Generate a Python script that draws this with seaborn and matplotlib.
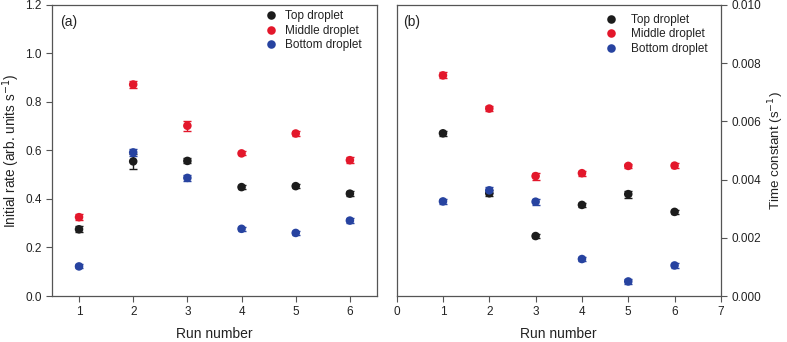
import matplotlib
matplotlib.use("Agg")
import matplotlib.pyplot as plt
import seaborn as sns
import pandas as pd
import numpy as np

runs = [1, 2, 3, 4, 5, 6]
series = ["Top droplet", "Middle droplet", "Bottom droplet"]

# Panel (a): initial rate
rate_top = [0.275, 0.555, 0.557, 0.449, 0.453, 0.422]
rate_mid = [0.325, 0.872, 0.702, 0.588, 0.670, 0.560]
rate_bot = [0.122, 0.592, 0.487, 0.277, 0.260, 0.311]
rate_top_err = [0.012, 0.030, 0.010, 0.008, 0.008, 0.010]
rate_mid_err = [0.012, 0.015, 0.020, 0.008, 0.010, 0.012]
rate_bot_err = [0.008, 0.015, 0.012, 0.008, 0.010, 0.010]

# Panel (b): time constant
tc_top = [0.00559, 0.00353, 0.00206, 0.00313, 0.00350, 0.00289]
tc_mid = [0.00758, 0.00644, 0.00412, 0.00422, 0.00447, 0.00448]
tc_bot = [0.00325, 0.00363, 0.00324, 0.00127, 0.00050, 0.00105]
tc_top_err = [0.00008, 0.00010, 0.00008, 0.00008, 0.00012, 0.00008]
tc_mid_err = [0.00010, 0.00010, 0.00012, 0.00008, 0.00008, 0.00008]
tc_bot_err = [0.00008, 0.00010, 0.00010, 0.00008, 0.00008, 0.00008]

colors = {"Top droplet": "#1c1c1c", "Middle droplet": "#e3172b", "Bottom droplet": "#2743a0"}

sns.set_style("ticks")
plt.rcParams['font.family'] = ['Liberation Sans', 'DejaVu Sans']

def make_df(top, mid, bot, etop, emid, ebot):
    rows = []
    for name, vals, errs in zip(series, [top, mid, bot], [etop, emid, ebot]):
        for r, v, e in zip(runs, vals, errs):
            rows.append({"Run": r, "Value": v, "Err": e, "Series": name})
    return pd.DataFrame(rows)

df_a = make_df(rate_top, rate_mid, rate_bot, rate_top_err, rate_mid_err, rate_bot_err)
df_b = make_df(tc_top, tc_mid, tc_bot, tc_top_err, tc_mid_err, tc_bot_err)

fig = plt.figure(figsize=(7.87, 3.42), dpi=100)
ax1 = fig.add_axes([0.066, 0.1345, 0.413, 0.851])
ax2 = fig.add_axes([0.504, 0.1345, 0.412, 0.851])

spine_col = "#555555"
txt_col = "#222222"

def draw(ax, df, leg_x, leg_y, tpad):
    for name in series:
        sub = df[df.Series == name]
        ax.errorbar(sub.Run, sub.Value, yerr=sub.Err, fmt='none', ecolor=colors[name],
                    elinewidth=1.0, capsize=3, capthick=1.0, zorder=2)
    sns.scatterplot(data=df, x="Run", y="Value", hue="Series", palette=colors,
                    hue_order=series, s=38, edgecolor='none', ax=ax, zorder=3)
    for s in ax.spines.values():
        s.set_color(spine_col)
        s.set_linewidth(0.9)
    ax.tick_params(direction='out', length=4, width=0.8, color=spine_col,
                   labelsize=8.5, labelcolor=txt_col)
    ax.set_xlabel("Run number", fontsize=10, color=txt_col, labelpad=6)
    leg = ax.legend(loc='upper left', bbox_to_anchor=(leg_x, leg_y), frameon=False,
                    fontsize=8.5, handlelength=1.0, handletextpad=tpad,
                    borderpad=0, borderaxespad=0, labelspacing=0.2)
    for t in leg.get_texts():
        t.set_color(txt_col)

draw(ax1, df_a, 0.655, 0.981, 0.69)
ax1.set_xlim(0.5, 6.5)
ax1.set_ylim(0, 1.2)
ax1.set_xticks(runs)
ax1.set_yticks(np.arange(0, 1.21, 0.2))
ax1.set_yticklabels([f"{v:.1f}" for v in np.arange(0, 1.21, 0.2)])
ax1.set_ylabel("Initial rate (arb. units s$^{-1}$)", fontsize=9.8, color=txt_col, labelpad=2)
ax1.text(0.025, 0.965, "(a)", transform=ax1.transAxes, fontsize=10, va='top', color=txt_col)

draw(ax2, df_b, 0.642, 0.969, 1.2)
ax2.set_xlim(0, 7)
ax2.set_ylim(0, 0.010)
ax2.set_xticks(range(0, 8))
ax2.set_yticks(np.arange(0, 0.0101, 0.002))
ax2.set_yticklabels([f"{v:.3f}" for v in np.arange(0, 0.0101, 0.002)])
ax2.yaxis.tick_right()
ax2.yaxis.set_label_position("right")
ax2.set_ylabel("Time constant (s$^{-1}$)", fontsize=9.6, color=txt_col, labelpad=4)
ax2.text(0.02, 0.965, "(b)", transform=ax2.transAxes, fontsize=10, va='top', color=txt_col)

fig.savefig("out.png", dpi=100)
